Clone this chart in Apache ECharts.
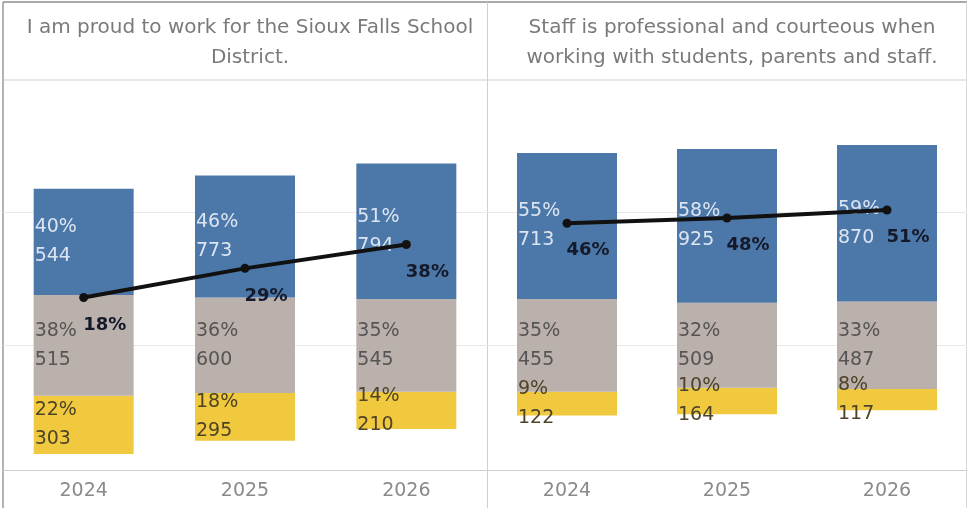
<!DOCTYPE html>
<html>
<head>
<meta charset="utf-8">
<script src="https://cdn.jsdelivr.net/npm/echarts@6/dist/echarts.min.js"></script>
<style>
  html, body { margin: 0; padding: 0; background: #fff; }
  #main { width: 969px; height: 508px; }
</style>
</head>
<body>
<div id="main"></div>
<script>
// data
const years = ['2024', '2025', '2026'];
const titles = [
  'I am proud to work for the Sioux Falls School\nDistrict.',
  'Staff is professional and courteous when\nworking with students, parents and staff.'
];
// [panel][year]
const posPct = [[40, 46, 51], [55, 58, 59]];
const posCnt = [[544, 773, 794], [713, 925, 870]];
const neuPct = [[38, 36, 35], [35, 32, 33]];
const neuCnt = [[515, 600, 545], [455, 509, 487]];
const negPct = [[22, 18, 14], [9, 10, 8]];
const negCnt = [[303, 295, 210], [122, 164, 117]];
const netPct = [[18, 29, 38], [46, 48, 51]];
const gridLines = [0, 50];

const BLUE = '#4c77a9';
const GREY = '#bab0ac';
const YELLOW = '#f1c93f';
const FONT = 'DejaVu Sans';

const panels = [
  { left: 3, width: 484 },
  { left: 487, width: 480 }
];

const grid = [], xAxis = [], yAxis = [], series = [], title = [];

panels.forEach((p, i) => {
  grid.push({ left: p.left, width: p.width, top: 80, height: 390 });
  xAxis.push({
    type: 'category', gridIndex: i, data: years,
    axisLine: { show: true, onZero: false, lineStyle: { color: '#cfcfcf' } },
    axisTick: { show: false },
    axisLabel: { color: '#8a8a8a', fontSize: 19, fontFamily: FONT, margin: 12 }
  });
  yAxis.push({
    type: 'value', gridIndex: i, min: -47, max: 100,
    axisLine: { show: false }, axisTick: { show: false },
    axisLabel: { show: false }, splitLine: { show: false }
  });
  title.push({
    text: titles[i],
    left: p.left + p.width / 2, top: 8, textAlign: 'center',
    textStyle: { color: '#7a7a7a', fontSize: 20, fontWeight: 'normal', fontFamily: FONT, lineHeight: 30 }
  });

  const offset = years.map((_, k) => -(neuPct[i][k] / 2 + negPct[i][k]));
  const common = {
    type: 'bar', xAxisIndex: i, yAxisIndex: i, stack: 's' + i,
    stackStrategy: 'all', barWidth: 100
  };
  const lbl = (color, pct, cnt) => ({
    show: true, position: 'insideLeft', distance: 1,
    color: color, fontSize: 19, fontFamily: FONT, lineHeight: 29,
    formatter: (d) => pct[i][d.dataIndex] + '%\n' + cnt[i][d.dataIndex]
  });

  series.push(Object.assign({}, common, {
    name: 'offset' + i, data: offset, z: 1,
    itemStyle: { color: 'transparent' }, silent: true,
    markLine: {
      silent: true, symbol: 'none', label: { show: false }, z: 1,
      lineStyle: { color: '#e8e8e8', type: 'solid', width: 1 },
      data: gridLines.map(v => ({ yAxis: v }))
    }
  }));
  series.push(Object.assign({}, common, {
    name: 'neg' + i, data: negPct[i], z: 3,
    itemStyle: { color: YELLOW }, label: lbl('#4d4326', negPct, negCnt)
  }));
  series.push(Object.assign({}, common, {
    name: 'neu' + i, data: neuPct[i], z: 3,
    itemStyle: { color: GREY }, label: lbl('#555555', neuPct, neuCnt)
  }));
  series.push(Object.assign({}, common, {
    name: 'pos' + i, data: posPct[i], z: 3,
    itemStyle: { color: BLUE }, label: lbl('#dbe5f1', posPct, posCnt)
  }));
  series.push({
    type: 'line', xAxisIndex: i, yAxisIndex: i, data: netPct[i], z: 10,
    symbol: 'circle', symbolSize: 9,
    lineStyle: { color: '#111', width: 4 },
    itemStyle: { color: '#111' },
    label: {
      show: true, position: [4, 23], align: 'left', verticalAlign: 'top',
      color: '#151a2a', fontWeight: 'bold', fontSize: 18, fontFamily: FONT,
      formatter: (d) => d.value + '%'
    }
  });
});

const chart = echarts.init(document.getElementById('main'));
chart.setOption({
  animation: false,
  title: title,
  grid: grid,
  xAxis: xAxis,
  yAxis: yAxis,
  series: series,
  graphic: [
    { type: 'line', shape: { x1: 3, y1: 2, x2: 967, y2: 2 }, style: { stroke: '#8c8c8c', lineWidth: 1.5 } },
    { type: 'line', shape: { x1: 3, y1: 2, x2: 3, y2: 508 }, style: { stroke: '#9a9a9a', lineWidth: 1.5 } },
    { type: 'line', shape: { x1: 3, y1: 80, x2: 967, y2: 80 }, style: { stroke: '#cfcfcf', lineWidth: 1 } },
    { type: 'line', shape: { x1: 487.5, y1: 2, x2: 487.5, y2: 508 }, style: { stroke: '#cfcfcf', lineWidth: 1 } },
    { type: 'line', shape: { x1: 966.5, y1: 2, x2: 966.5, y2: 508 }, style: { stroke: '#d8d8d8', lineWidth: 1 } }
  ]
});
</script>
</body>
</html>
